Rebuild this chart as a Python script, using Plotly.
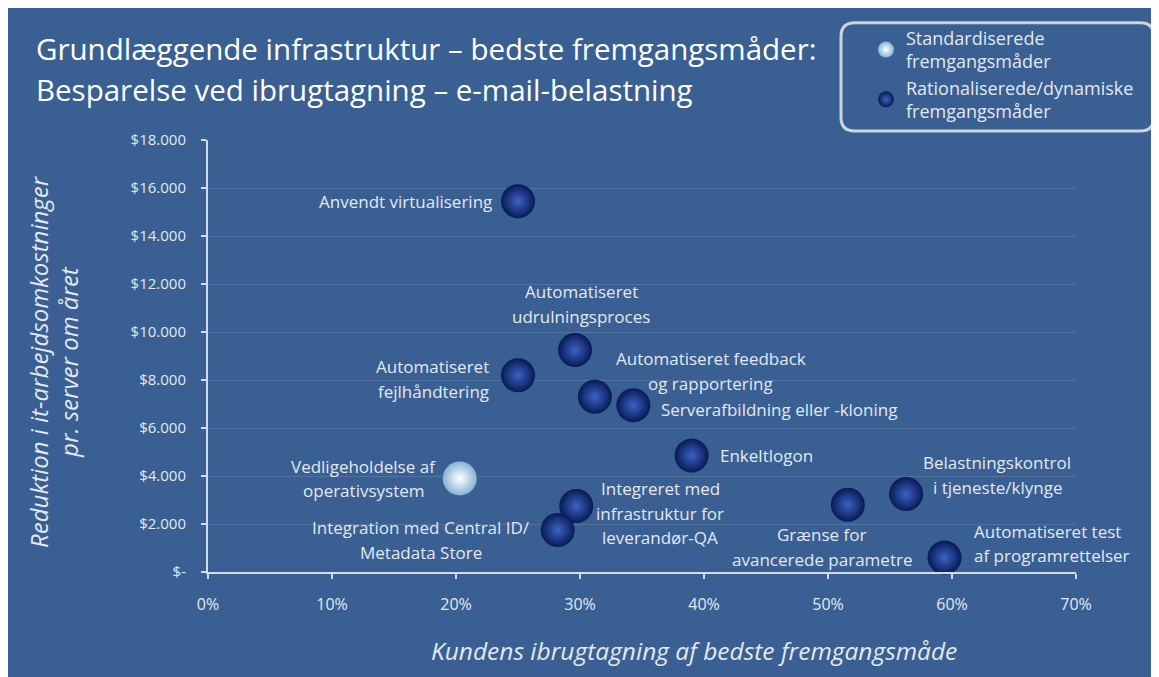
import plotly.graph_objects as go

# ---------------- data ----------------
practices = [
    "Anvendt virtualisering",
    "Automatiseret\nudrulningsproces",
    "Automatiseret\nfejlhåndtering",
    "Automatiseret feedback\nog rapportering",
    "Serverafbildning eller -kloning",
    "Enkeltlogon",
    "Vedligeholdelse af\noperativsystem",
    "Integreret med\ninfrastruktur for\nleverandør-QA",
    "Integration med Central ID/\nMetadata Store",
    "Grænse for\navancerede parametre",
    "Belastningskontrol\ni tjeneste/klynge",
    "Automatiseret test\naf programrettelser",
]
adoption = [0.250, 0.296, 0.250, 0.312, 0.343, 0.390, 0.203, 0.297, 0.282, 0.516, 0.563, 0.594]
savings = [15450, 9250, 8200, 7300, 6950, 4850, 3900, 2750, 1750, 2800, 3250, 600]
category = ["dyn", "dyn", "dyn", "dyn", "dyn", "dyn", "std", "dyn", "dyn", "dyn", "dyn", "dyn"]

series_names = {
    "std": "Standardiserede<br>fremgangsmåder",
    "dyn": "Rationaliserede/dynamiske<br>fremgangsmåder",
}

x_tickvals = [0, 0.1, 0.2, 0.3, 0.4, 0.5, 0.6, 0.7]
x_ticktext = ["0%", "10%", "20%", "30%", "40%", "50%", "60%", "70%"]
y_tickvals = [0, 2000, 4000, 6000, 8000, 10000, 12000, 14000, 16000, 18000]
y_ticktext = ["$-", "$2.000", "$4.000", "$6.000", "$8.000", "$10.000",
              "$12.000", "$14.000", "$16.000", "$18.000"]

title_lines = ["Grundlæggende infrastruktur – bedste fremgangsmåder:",
               "Besparelse ved ibrugtagning – e-mail-belastning"]
x_title = "Kundens ibrugtagning af bedste fremgangsmåde"
y_title_lines = ["Reduktion i it-arbejdsomkostninger", "pr. server om året"]

# label placement (anchor, dx px, dy px of block centre relative to point)
label_pos = [
    ("right", -24, 0), ("center", 6, -46), ("right", -27, 4), ("center", 116, -26),
    ("left", 26, 4), ("left", 26, 0), ("center", -96, 0), ("center", 84, 7),
    ("center", -137, 10), ("center", -26, 42), ("center", 91, -19), ("left", 27, -14),
]

# ---------------- style ----------------
W, H = 1159, 677
OFF = 8  # page margin of the html body
ML, MR, MT, MB = 200, 91, 126, 113
PW, PH = W - ML - MR, H - MT - MB
BG = "#395f93"
TXT = "#e4e9f1"
AX = "#d5dbe6"
FONT = "Open Sans"


def xp(px):
    return (px - OFF - ML) / PW


def yp(py):
    return (H - MB - (py - OFF)) / PH


fig = go.Figure()

styles = {
    "std": dict(color="#86b3d3", gradient=dict(type="radial", color="#ffffff")),
    "dyn": dict(color="#081a55", gradient=dict(type="radial", color="#3c62c4")),
}
for cat in ["std", "dyn"]:
    idx = [i for i, c in enumerate(category) if c == cat]
    fig.add_trace(go.Scatter(
        x=[adoption[i] for i in idx],
        y=[savings[i] for i in idx],
        mode="markers",
        name=series_names[cat],
        marker=dict(size=34, line=dict(width=0), **styles[cat]),
        cliponaxis=False,
        hovertext=[practices[i].replace("\n", " ") for i in idx],
    ))

annotations = []
LINE = 24.5
for i, lab in enumerate(practices):
    anchor, dx, dy = label_pos[i]
    lines = lab.split("\n")
    n = len(lines)
    for k, ln in enumerate(lines):
        off = dy + (k - (n - 1) / 2) * LINE
        annotations.append(dict(
            x=adoption[i], y=savings[i], xref="x", yref="y", text=ln,
            showarrow=False, xanchor=anchor, yanchor="middle",
            xshift=dx, yshift=-off, font=dict(family=FONT, size=17, color=TXT),
        ))

# title
for k, t in enumerate(title_lines):
    annotations.append(dict(
        x=xp(34), y=yp(41 + 42 * k), xref="paper", yref="paper", text=t,
        showarrow=False, xanchor="left", yanchor="middle",
        font=dict(family=FONT, size=29.5, color="#ffffff"),
    ))

# axis titles
annotations.append(dict(
    x=xp(694), y=yp(652), xref="paper", yref="paper", text="<i>" + x_title + "</i>",
    showarrow=False, xanchor="center", yanchor="middle",
    font=dict(family=FONT, size=24.5, color=TXT),
))
for k, t in enumerate(y_title_lines):
    annotations.append(dict(
        x=xp(39 + 30 * k), y=yp(359), xref="paper", yref="paper", text="<i>" + t + "</i>",
        showarrow=False, xanchor="center", yanchor="middle", textangle=-90,
        font=dict(family=FONT, size=24, color=TXT),
    ))

# legend box (rounded)
x0, x1, y0, y1, r = xp(841), xp(1154), yp(15), yp(125), 14
rx, ry = r / PW, r / PH
path = (f"M {x0+rx},{y0} L {x1-rx},{y0} Q {x1},{y0} {x1},{y0-ry} "
        f"L {x1},{y1+ry} Q {x1},{y1} {x1-rx},{y1} L {x0+rx},{y1} "
        f"Q {x0},{y1} {x0},{y1+ry} L {x0},{y0-ry} Q {x0},{y0} {x0+rx},{y0} Z")
shapes = [
    dict(type="path", xref="paper", yref="paper", path=path,
         line=dict(color="#cfd4da", width=3), fillcolor="rgba(0,0,0,0)", layer="above"),
]

fig.update_layout(
    width=W, height=H,
    margin=dict(l=ML, r=MR, t=MT, b=MB),
    paper_bgcolor=BG, plot_bgcolor=BG,
    font=dict(family=FONT, color=TXT),
    showlegend=True,
    legend=dict(
        x=xp(866), y=yp(12), xanchor="left", yanchor="top",
        bgcolor="rgba(0,0,0,0)", borderwidth=0,
        font=dict(family=FONT, size=18, color=TXT),
        itemsizing="trace", tracegroupgap=0,
    ),
    annotations=annotations,
    shapes=shapes,
    xaxis=dict(
        range=[0, 0.7], tickvals=x_tickvals, ticktext=x_ticktext,
        showgrid=False, zeroline=False, showline=True, linecolor=AX, linewidth=2,
        ticks="outside", ticklen=5, tickcolor=AX, tickwidth=2,
        tickfont=dict(family=FONT, size=16, color=TXT), ticklabelstandoff=12,
        fixedrange=True,
    ),
    yaxis=dict(
        range=[0, 18000], tickvals=y_tickvals, ticktext=y_ticktext,
        showgrid=True, gridcolor="rgba(255,255,255,0.13)", gridwidth=1,
        zeroline=False, showline=True, linecolor=AX, linewidth=2,
        ticks="outside", ticklen=5, tickcolor=AX, tickwidth=2,
        tickfont=dict(family=FONT, size=15, color=TXT), ticklabelstandoff=12,
        fixedrange=True,
    ),
)

fig.write_html("out.html")
